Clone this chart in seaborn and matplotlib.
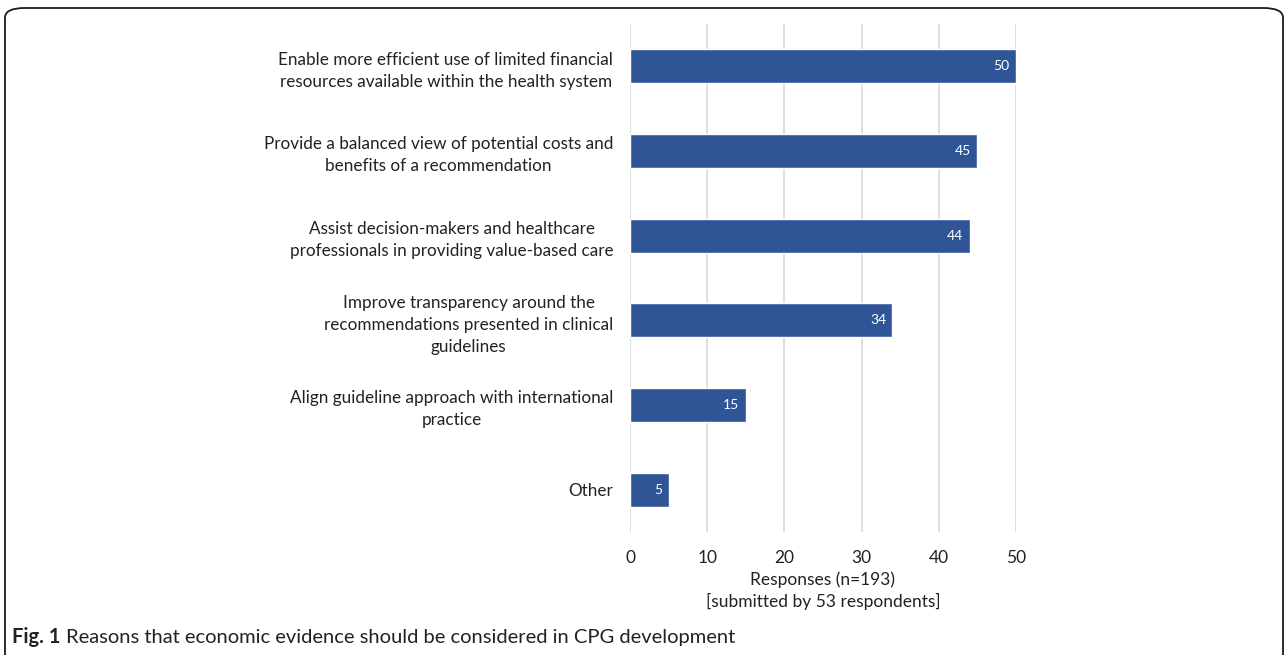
import matplotlib
matplotlib.use("Agg")
import matplotlib.pyplot as plt
import seaborn as sns
import pandas as pd
from matplotlib.patches import FancyBboxPatch

categories = [
    "Enable more efficient use of limited financial\nresources available within the health system",
    "Provide a balanced view of potential costs and\nbenefits of a recommendation",
    "Assist decision-makers and healthcare\nprofessionals in providing value-based care",
    "Improve transparency around the\nrecommendations presented in clinical\nguidelines",
    "Align guideline approach with international\npractice",
    "Other",
]
responses = [50, 45, 44, 34, 15, 5]
xticks = [0, 10, 20, 30, 40, 50]

df = pd.DataFrame({"reason": categories, "responses": responses})

sns.set_theme(style="white")
plt.rcParams["font.family"] = ["Lato", "DejaVu Sans"]

fig = plt.figure(figsize=(12.88, 6.55), dpi=100)
ax = fig.add_axes([630 / 1288, 1 - 532 / 655, 386 / 1288, 508 / 655])

sns.barplot(data=df, y="reason", x="responses", orient="h", color="#2F5597",
            saturation=1, width=0.40, ax=ax)

ax.set_xlim(0, 50)
ax.set_ylim(5.5, -0.5)
ax.set_xticks(xticks)
ax.set_xticklabels([str(t) for t in xticks], fontsize=12.5, color="#222222")
ax.tick_params(axis="x", length=0, pad=13)
ax.tick_params(axis="y", length=0, pad=12)
for lab in ax.get_yticklabels():
    lab.set_multialignment("center")
    lab.set_fontsize(12.3)
    lab.set_color("#222222")
    lab.set_linespacing(1.45)
ax.set_ylabel("")
ax.set_xlabel("Responses (n=193)\n[submitted by 53 respondents]", fontsize=12.5,
              color="#222222", labelpad=4, linespacing=1.35)
ax.grid(axis="x", color="#D9D9D9", linewidth=1.2)
ax.set_axisbelow(True)
for s in ax.spines.values():
    s.set_visible(False)

for cont in ax.containers:
    texts = ax.bar_label(cont, labels=[str(v) for v in responses], label_type="edge",
                         padding=-4.5, color="white", fontsize=10)
    for t in texts:
        t.set_ha("right")

frame = FancyBboxPatch((5 / 1288, -20 / 655), 1278 / 1288, (655 - 8 + 20) / 655,
                       boxstyle="round,pad=0,rounding_size=0.015",
                       transform=fig.transFigure, fill=False,
                       edgecolor="#1a1a1a", linewidth=1.3)
fig.patches.append(frame)

fig.text(12 / 1288, 1 - 637 / 655, "Fig. 1", fontsize=14.5, fontweight="bold",
         va="center", ha="left", color="#222222")
fig.text(66 / 1288, 1 - 637 / 655,
         "Reasons that economic evidence should be considered in CPG development",
         fontsize=14.5, va="center", ha="left", color="#222222")

fig.savefig("out.png", dpi=100)
